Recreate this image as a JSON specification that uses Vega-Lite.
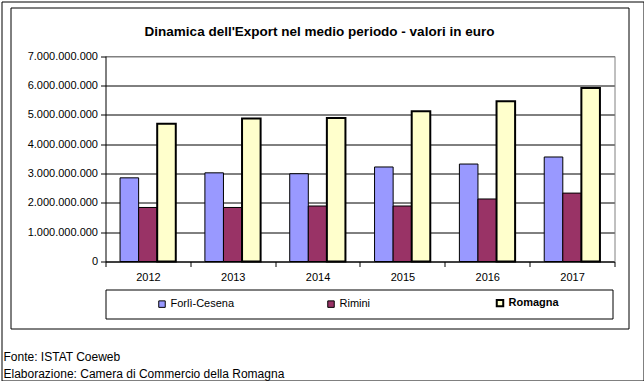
{
  "$schema": "https://vega.github.io/schema/vega-lite/v6.json",
  "padding": {"left": 0.5, "top": 0.5, "right": 0.5, "bottom": 0.5},
  "background": "white",
  "config": {
    "locale": {"number": {"decimal": ",", "thousands": ".", "grouping": [3], "currency": ["€", ""]}},
    "font": "Liberation Sans",
    "view": {"stroke": "black", "strokeWidth": 1}
  },
  "title": {
    "text": ["Fonte: ISTAT Coeweb", "Elaborazione: Camera di Commercio della Romagna"],
    "orient": "bottom", "anchor": "start", "dx": 2.5, "offset": -35.5,
    "fontSize": 12, "fontWeight": "normal", "font": "Liberation Sans", "color": "black",
    "lineHeight": 17, "baseline": "top"
  },
  "vconcat": [
    {
      "width": 618,
      "height": 321,
      "title": {
        "text": "Dinamica dell'Export nel medio periodo - valori in euro",
        "anchor": "middle", "offset": -44, "baseline": "middle",
        "fontSize": 13.5, "fontWeight": "bold", "color": "black", "font": "Liberation Sans"
      },
      "data": {
        "values": [
          {"year": "2012", "series": "Forlì-Cesena", "value": 2850000000},
          {"year": "2012", "series": "Rimini", "value": 1840000000},
          {"year": "2012", "series": "Romagna", "value": 4690000000},
          {"year": "2013", "series": "Forlì-Cesena", "value": 3020000000},
          {"year": "2013", "series": "Rimini", "value": 1840000000},
          {"year": "2013", "series": "Romagna", "value": 4870000000},
          {"year": "2014", "series": "Forlì-Cesena", "value": 2990000000},
          {"year": "2014", "series": "Rimini", "value": 1890000000},
          {"year": "2014", "series": "Romagna", "value": 4890000000},
          {"year": "2015", "series": "Forlì-Cesena", "value": 3220000000},
          {"year": "2015", "series": "Rimini", "value": 1890000000},
          {"year": "2015", "series": "Romagna", "value": 5120000000},
          {"year": "2016", "series": "Forlì-Cesena", "value": 3320000000},
          {"year": "2016", "series": "Rimini", "value": 2130000000},
          {"year": "2016", "series": "Romagna", "value": 5460000000},
          {"year": "2017", "series": "Forlì-Cesena", "value": 3560000000},
          {"year": "2017", "series": "Rimini", "value": 2330000000},
          {"year": "2017", "series": "Romagna", "value": 5910000000}
        ]
      },
      "layer": [
        {
          "mark": {"type": "bar", "stroke": "black"},
          "encoding": {
            "x": {
              "field": "year", "type": "nominal",
              "scale": {"range": [95, 604], "paddingInner": 0, "paddingOuter": 0},
              "axis": {
                "orient": "bottom", "offset": -67, "title": null, "labelAngle": 0,
                "tickBand": "extent", "ticks": true, "tickSize": 5, "tickColor": "black",
                "domainColor": "black", "labelPadding": 5, "labelFontSize": 11,
                "labelColor": "black", "labelFont": "Liberation Sans", "grid": false
              }
            },
            "xOffset": {
              "field": "series", "type": "nominal",
              "sort": ["Forlì-Cesena", "Rimini", "Romagna"],
              "scale": {"paddingOuter": 0.784, "paddingInner": 0}
            },
            "y": {
              "field": "value", "type": "quantitative",
              "scale": {"domain": [0, 7000000000], "range": [254, 48.5], "nice": false, "zero": true},
              "axis": {
                "orient": "left", "offset": -95, "title": null,
                "values": [0, 1000000000, 2000000000, 3000000000, 4000000000, 5000000000, 6000000000, 7000000000],
                "format": ",d", "grid": true,
                "gridColor": {"condition": {"test": "datum.value === 7000000000", "value": "#808080"}, "value": "black"},
                "gridOpacity": 1, "gridWidth": 1, "tickSize": 5, "tickColor": "black",
                "domainColor": "black", "labelPadding": 3, "labelFontSize": 11,
                "labelColor": "black", "labelFont": "Liberation Sans"
              }
            },
            "color": {
              "field": "series", "type": "nominal",
              "sort": ["Forlì-Cesena", "Rimini", "Romagna"],
              "scale": {"domain": ["Forlì-Cesena", "Rimini", "Romagna"], "range": ["#9999FF", "#993366", "#FFFFCC"]},
              "legend": {
                "orient": "none", "legendX": 95, "legendY": 282,
                "direction": "horizontal", "columns": 3, "gridAlign": "all",
                "columnPadding": 48, "padding": 8,
                "strokeColor": "black", "fillColor": "white",
                "title": " ", "titleOrient": "right", "titlePadding": 46,
                "symbolType": "square", "symbolSize": 42, "symbolOffset": 43,
                "symbolStrokeColor": "black", "symbolStrokeWidth": 1,
                "labelFontSize": 11, "labelColor": "black", "labelFont": "Liberation Sans",
                "labelOffset": 3,
                "encode": {
                  "symbols": {"update": {"strokeWidth": {"signal": "datum.value === 'Romagna' ? 2 : 1"}, "stroke": {"value": "black"}}},
                  "labels": {"update": {"fontWeight": {"signal": "datum.value === 'Romagna' ? 'bold' : 'normal'"}}}
                }
              }
            },
            "strokeWidth": {"condition": {"test": "datum.series === 'Romagna'", "value": 2}, "value": 1}
          }
        },
        {
          "mark": {"type": "point", "opacity": 0},
          "encoding": {
            "x": {
              "field": "year", "type": "nominal",
              "scale": {"range": [95, 604]},
              "axis": {"orient": "top", "offset": -48.5, "labels": false, "ticks": false, "grid": false, "domainColor": "#808080", "title": null}
            },
            "y": {
              "field": "value", "type": "quantitative",
              "scale": {"domain": [0, 7000000000], "range": [254, 48.5], "nice": false},
              "axis": {"orient": "right", "offset": -14, "labels": false, "ticks": false, "grid": false, "domainColor": "#808080", "title": null}
            }
          }
        },
        {
          "mark": {"type": "point", "opacity": 0},
          "encoding": {
            "x": {
              "field": "year", "type": "nominal",
              "scale": {"range": [-9, 633]},
              "axis": {"orient": "top", "offset": 6, "labels": false, "ticks": false, "grid": false, "domainColor": "black", "title": null}
            },
            "y": {
              "field": "value", "type": "quantitative",
              "scale": {"domain": [0, 7000000000], "range": [373, -6], "nice": false},
              "axis": {"orient": "left", "offset": 9, "labels": false, "ticks": false, "grid": false, "domainColor": "black", "title": null}
            }
          }
        },
        {
          "mark": {"type": "point", "opacity": 0},
          "encoding": {
            "x": {
              "field": "year", "type": "nominal",
              "scale": {"range": [-9, 633]},
              "axis": {"orient": "bottom", "offset": 52, "labels": false, "ticks": false, "grid": false, "domainColor": "black", "title": null}
            },
            "y": {
              "field": "value", "type": "quantitative",
              "scale": {"domain": [0, 7000000000], "range": [373, -6], "nice": false},
              "axis": {"orient": "right", "offset": 15, "labels": false, "ticks": false, "grid": false, "domainColor": "black", "title": null}
            }
          }
        }
      ],
      "resolve": {
        "scale": {"x": "independent", "y": "independent"},
        "axis": {"x": "independent", "y": "independent"}
      }
    }
  ]
}
